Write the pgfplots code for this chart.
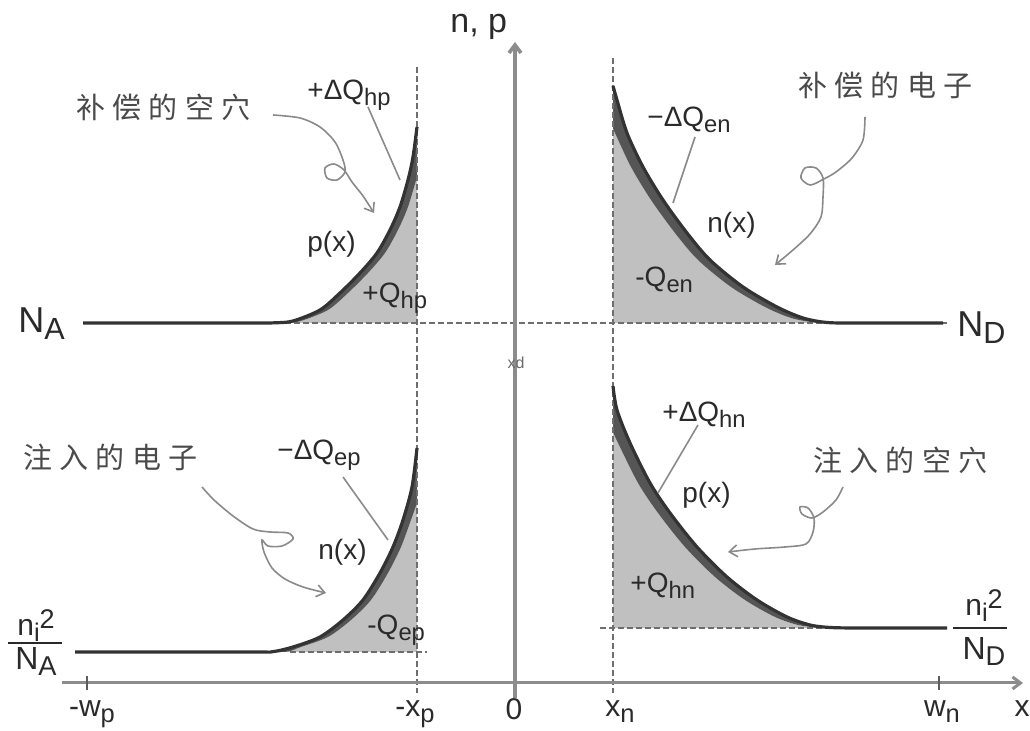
\documentclass[border=0pt]{standalone}
\usepackage{pgfplots}
\pgfplotsset{compat=1.18}
\usepgfplotslibrary{fillbetween}
\usetikzlibrary{arrows.meta}
\usepackage{graphicx}
\usepackage{fontspec}
\setmainfont{Liberation Sans}
\newfontfamily\cjk{Noto Sans CJK SC}
\definecolor{fillg}{HTML}{C0C0C0}
\definecolor{bandg}{HTML}{555555}
\definecolor{curveg}{HTML}{333333}
\definecolor{lineg}{HTML}{8C8C8C}
\definecolor{dashg}{HTML}{6E6E6E}
\definecolor{txt}{HTML}{2A2A2A}
\definecolor{ptr}{HTML}{8A8A8A}
\newcommand\lo[1]{\raisebox{-0.35ex}{\scalebox{0.85}{#1}}}
\newcommand\cc[1]{\makebox[18.2pt][c]{#1}}
\tikzset{
  lab/.style={anchor=base west, inner sep=0pt, text=txt, font=\fontsize{14}{16}\selectfont},
  big/.style={anchor=base west, inner sep=0pt, text=txt, font=\fontsize{18}{20}\selectfont},
  tick/.style={anchor=base, inner sep=0pt, text=txt, font=\fontsize{15}{17}\selectfont},
  cjkl/.style={anchor=west, inner sep=0pt, text=txt!85!white, font=\cjk\fontsize{14.5}{16}\selectfont},
  arr/.style={-{Straight Barb[length=4pt,width=6pt]}},
}
\begin{document}
\begin{tikzpicture}
\begin{axis}[x=0.5pt, y=0.5pt, xmin=0, xmax=1030, ymin=0, ymax=731,
  y dir=reverse, hide axis, clip=false]

% ---------- curves (paths) ----------
% top left: p(x)
\addplot[draw=none, smooth, tension=0.5, name path=TLo] coordinates {
 (275,322.8) (293,321) (320,310) (340,293) (360,273) (377,253) (390,230) (400,207) (408,180) (413,157) (417,127)};
\addplot[draw=none, smooth, tension=0.5, name path=TLi] coordinates {
 (275,323) (288,322.6) (301,321) (328,310) (348,293) (368,273) (385,253) (398,230) (408,207) (417,177)};
\addplot[draw=none, name path=TLb] coordinates {(275,323) (417,323)};
\addplot[fill=fillg, draw=none] fill between[of=TLi and TLb];
\addplot[fill=bandg, draw=none] fill between[of=TLo and TLi];

% top right: n(x)
\addplot[draw=none, smooth, tension=0.5, name path=TRo] coordinates {
 (613,86) (617,100) (627,133) (643,167) (663,200) (687,233) (710,260) (743,287) (777,307) (803,318) (827,322.5) (840,323)};
\addplot[draw=none, smooth, tension=0.5, name path=TRi] coordinates {
 (613,128) (615,133) (631,167) (651,200) (675,233) (698,260) (731,287) (765,307) (791,318) (815,322.5) (840,323)};
\addplot[draw=none, name path=TRb] coordinates {(613,323) (840,323)};
\addplot[fill=fillg, draw=none] fill between[of=TRi and TRb];
\addplot[fill=bandg, draw=none] fill between[of=TRo and TRi];

% bottom left: n(x)
\addplot[draw=none, smooth, tension=0.5, name path=BLo] coordinates {
 (272,651.8) (293,647) (320,637) (343,620) (363,600) (380,573) (393,547) (403,520) (412,487) (417,448)};
\addplot[draw=none, smooth, tension=0.5, name path=BLi] coordinates {
 (272,652) (288,651.6) (301,647) (328,637) (351,620) (371,600) (388,573) (401,547) (411,520) (417,503)};
\addplot[draw=none, name path=BLb] coordinates {(272,652) (417,652)};
\addplot[fill=fillg, draw=none] fill between[of=BLi and BLb];
\addplot[fill=bandg, draw=none] fill between[of=BLo and BLi];

% bottom right: p(x)
\addplot[draw=none, smooth, tension=0.5, name path=BRo] coordinates {
 (613,386) (617,410) (630,443) (650,483) (670,513) (697,547) (727,577) (757,600) (787,617) (810,625) (830,627.5) (845,628)};
\addplot[draw=none, smooth, tension=0.5, name path=BRi] coordinates {
 (613,432) (618,443) (638,483) (658,513) (685,547) (715,577) (745,600) (775,617) (798,625) (818,627.5) (845,628)};
\addplot[draw=none, name path=BRb] coordinates {(613,628) (845,628)};
\addplot[fill=fillg, draw=none] fill between[of=BRi and BRb];
\addplot[fill=bandg, draw=none] fill between[of=BRo and BRi];

% ---------- dashed reference lines ----------
\addplot[dashg, line width=1.1pt, dash pattern=on 3pt off 1.5pt] coordinates {(285,323) (947,323)};
\addplot[dashg, line width=1.1pt, dash pattern=on 3pt off 1.5pt] coordinates {(290,652) (427,652)};
\addplot[dashg, line width=1.1pt, dash pattern=on 3pt off 1.5pt] coordinates {(600,628) (947,628)};
\addplot[dashg, line width=1.1pt, dash pattern=on 3pt off 1.5pt] coordinates {(417,67) (417,693)};
\addplot[dashg, line width=1.1pt, dash pattern=on 3pt off 1.5pt] coordinates {(613,58) (613,693)};

% ---------- curve lines ----------
\addplot[curveg, line width=1.6pt, smooth, tension=0.5] coordinates {
 (83,323) (250,323) (275,322.8) (293,321) (320,310) (340,293) (360,273) (377,253) (390,230) (400,207) (408,180) (413,157) (417,127)};
\addplot[curveg, line width=1.6pt, smooth, tension=0.5] coordinates {
 (613,86) (617,100) (627,133) (643,167) (663,200) (687,233) (710,260) (743,287) (777,307) (803,318) (827,322.5) (860,323) (943,323)};
\addplot[curveg, line width=1.6pt, smooth, tension=0.5] coordinates {
 (75,652) (250,652) (272,651.8) (293,647) (320,637) (343,620) (363,600) (380,573) (393,547) (403,520) (412,487) (417,448)};
\addplot[curveg, line width=1.6pt, smooth, tension=0.5] coordinates {
 (613,386) (617,410) (630,443) (650,483) (670,513) (697,547) (727,577) (757,600) (787,617) (810,625) (830,627.5) (860,628) (947,628)};

% ---------- axes ----------
\draw[lineg, line width=1.8pt, arr] (axis cs:515,698) -- (axis cs:515,42);
\draw[lineg, line width=1.5pt, arr] (axis cs:62,683) -- (axis cs:1023,683);
\draw[curveg!80!white, line width=1pt] (axis cs:87,676) -- (axis cs:87,690);
\draw[curveg!80!white, line width=1pt] (axis cs:939,676) -- (axis cs:939,690);

% ---------- pointer lines ----------
\addplot[ptr, line width=0.8pt] coordinates {(368,107) (400,180)};
\addplot[ptr, line width=0.8pt] coordinates {(695,137) (673,203)};
\addplot[ptr, line width=0.8pt] coordinates {(343,477) (388,540)};
\addplot[ptr, line width=0.8pt] coordinates {(698,425) (658,493)};

% ---------- curly arrows ----------
\addplot[ptr, line width=0.8pt, smooth, arr] coordinates {
 (273,115) (300,118) (320,127) (335,142) (343,160) (345,172) (337,180) (327,178) (325,168) (334,164) (344,170) (352,182) (363,196) (374,213)};
\addplot[ptr, line width=0.8pt, smooth, arr] coordinates {
 (865,117) (863,140) (852,158) (836,172) (822,180) (810,185) (801,178) (805,168) (816,168) (823,178) (823,197) (821,217) (810,234) (793,250) (775,265)};
\addplot[ptr, line width=0.8pt, smooth, arr] coordinates {
 (202,487) (214,500) (233,516) (253,529) (270,532) (288,533) (293,539) (282,546) (268,546) (262,540) (264,552) (272,568) (285,579) (303,587) (326,593)};
\addplot[ptr, line width=0.8pt, smooth, arr] coordinates {
 (843,487) (836,500) (823,512) (812,518) (802,514) (800,507) (808,508) (814,518) (813,532) (806,544) (785,547) (755,549) (728,552)};

% ---------- labels ----------
\node[lab] at (axis cs:450,33) {\fontsize{17}{19}\selectfont n, p};
\node[cjkl] at (axis cs:72,107) {\cc{补}\cc{偿}\cc{的}\cc{空}\cc{穴}};
\node[cjkl] at (axis cs:794,85) {\cc{补}\cc{偿}\cc{的}\cc{电}\cc{子}};
\node[cjkl] at (axis cs:19,457) {\cc{注}\cc{入}\cc{的}\cc{电}\cc{子}};
\node[cjkl] at (axis cs:809,460) {\cc{注}\cc{入}\cc{的}\cc{空}\cc{穴}};

\node[lab] at (axis cs:307,100) {+ΔQ\lo{hp}};
\node[lab] at (axis cs:307,252) {p(x)};
\node[lab] at (axis cs:362,303) {+Q\lo{hp}};

\node[lab] at (axis cs:647,127) {−ΔQ\lo{en}};
\node[lab] at (axis cs:707,233) {n(x)};
\node[lab] at (axis cs:635,287) {-Q\lo{en}};

\node[lab] at (axis cs:277,460) {−ΔQ\lo{ep}};
\node[lab] at (axis cs:318,560) {n(x)};
\node[lab] at (axis cs:367,635) {-Q\lo{ep}};

\node[lab] at (axis cs:662,422) {+ΔQ\lo{hn}};
\node[lab] at (axis cs:682,503) {p(x)};
\node[lab] at (axis cs:630,593) {+Q\lo{hn}};

\node[big] at (axis cs:18,333) {N\lo{A}};
\node[big] at (axis cs:957,337) {N\lo{D}};

% fractions
\node[anchor=base, inner sep=0pt, text=txt, font=\fontsize{15}{17}\selectfont] at (axis cs:36,636) {n\lo{i}\raisebox{0.5ex}{\scalebox{0.9}{2}}};
\draw[txt, line width=1pt] (axis cs:8,643) -- (axis cs:62,643);
\node[anchor=base, inner sep=0pt, text=txt, font=\fontsize{16}{18}\selectfont] at (axis cs:36,670) {N\lo{A}};
\node[anchor=base, inner sep=0pt, text=txt, font=\fontsize{15}{17}\selectfont] at (axis cs:984,616) {n\lo{i}\raisebox{0.5ex}{\scalebox{0.9}{2}}};
\draw[txt, line width=1pt] (axis cs:953,628) -- (axis cs:1007,628);
\node[anchor=base, inner sep=0pt, text=txt, font=\fontsize{16}{18}\selectfont] at (axis cs:984,660) {N\lo{D}};

% tick labels
\node[tick] at (axis cs:92,717) {-w\lo{p}};
\node[tick] at (axis cs:415,717) {-x\lo{p}};
\node[tick] at (axis cs:514,720) {0};
\node[tick] at (axis cs:620,717) {x\lo{n}};
\node[tick] at (axis cs:942,717) {w\lo{n}};
\node[tick] at (axis cs:1022,717) {x};
\node[anchor=center, inner sep=0pt, text=txt!70!white, font=\fontsize{8}{8}\selectfont] at (axis cs:516,363) {xd};
\end{axis}
\pgfresetboundingbox
\path (current axis.south west) rectangle (current axis.north east);
\end{tikzpicture}
\end{document}
